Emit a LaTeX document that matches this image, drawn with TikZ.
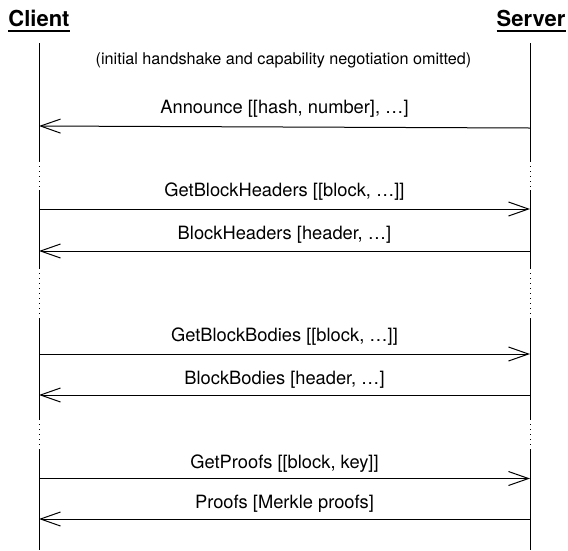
\documentclass[tikz,border=0pt]{standalone}
\usepackage{fontspec}
\setmainfont{TeX Gyre Heros}
\usetikzlibrary{arrows.meta}
\begin{document}
\begin{tikzpicture}[x=1pt,y=-1pt,
  lifeline/.style={line width=1pt},
  gapline/.style={line width=1pt, dash pattern=on 1.2pt off 3.8pt},
  msg/.style={line width=1pt, -{Straight Barb[length=20pt,width=14pt,line width=1pt]}},
  msglabel/.style={font=\fontsize{18.3}{21}\selectfont, anchor=base, inner sep=0pt},
  notelabel/.style={font=\fontsize{16.2}{19}\selectfont, anchor=base, inner sep=0pt},
  actor/.style={font=\fontsize{22}{25}\selectfont\bfseries, anchor=base, inner sep=0pt},
  underbar/.style={line width=1.2pt}]
\useasboundingbox (0,0) rectangle (568,550);

% actors with underlined names
\node[actor] (client) at (39,26.7) {Client};
\node[actor] (server) at (531,26.7) {Server};
\draw[underbar] ([yshift=-4.3pt]client.base west) -- ([yshift=-4.3pt]client.base east);
\draw[underbar] ([yshift=-4.3pt]server.base west) -- ([yshift=-4.3pt]server.base east);

% lifelines: solid parts separated by dotted "time passes" gaps
\foreach \n/\x in {C/39, S/530} {
  \coordinate (\n0) at (\x,43);
  \coordinate (\n1) at (\x,161);
  \coordinate (\n2) at (\x,190);
  \coordinate (\n3) at (\x,268);
  \coordinate (\n4) at (\x,318);
  \coordinate (\n5) at (\x,419);
  \coordinate (\n6) at (\x,450);
  \coordinate (\n7) at (\x,550);
  \draw[lifeline] (\n0) -- (\n1);
  \draw[gapline]  (\n1) -- (\n2);
  \draw[lifeline] (\n2) -- (\n3);
  \draw[gapline]  (\n3) -- (\n4);
  \draw[lifeline] (\n4) -- (\n5);
  \draw[gapline]  (\n5) -- (\n6);
  \draw[lifeline] (\n6) -- (\n7);
}

% note
\node[notelabel] (note) at (283.5,64.5) {(initial handshake and capability negotiation omitted)};

% message end points
\coordinate (annS) at (530,128);  \coordinate (annC) at (39,126);
\coordinate (ghC) at (39,209);    \coordinate (ghS) at (530,209);
\coordinate (hC) at (39,251);     \coordinate (hS) at (530,251);
\coordinate (gbC) at (39,354);    \coordinate (gbS) at (530,354);
\coordinate (bC) at (39,395);     \coordinate (bS) at (530,395);
\coordinate (gpC) at (39,478.5);  \coordinate (gpS) at (530,478.5);
\coordinate (pC) at (39,519);     \coordinate (pS) at (530,519);

% messages
\draw[msg] (annS) -- (annC);
\draw[msg] (ghC) -- (ghS);
\draw[msg] (hS) -- (hC);
\draw[msg] (gbC) -- (gbS);
\draw[msg] (bS) -- (bC);
\draw[msg] (gpC) -- (gpS);
\draw[msg] (pS) -- (pC);

% message labels
\node[msglabel] (l1) at (284.5,113.3) {Announce [[hash, number], …]};
\node[msglabel] (l2) at (284.5,196) {GetBlockHeaders [[block, …]]};
\node[msglabel] (l3) at (284.5,239) {BlockHeaders [header, …]};
\node[msglabel] (l4) at (284.5,341) {GetBlockBodies [[block, …]]};
\node[msglabel] (l5) at (284.5,384) {BlockBodies [header, …]};
\node[msglabel] (l6) at (284.5,468.3) {GetProofs [[block, key]]};
\node[msglabel] (l7) at (284.5,508.5) {Proofs [Merkle proofs]};
\end{tikzpicture}
\end{document}
